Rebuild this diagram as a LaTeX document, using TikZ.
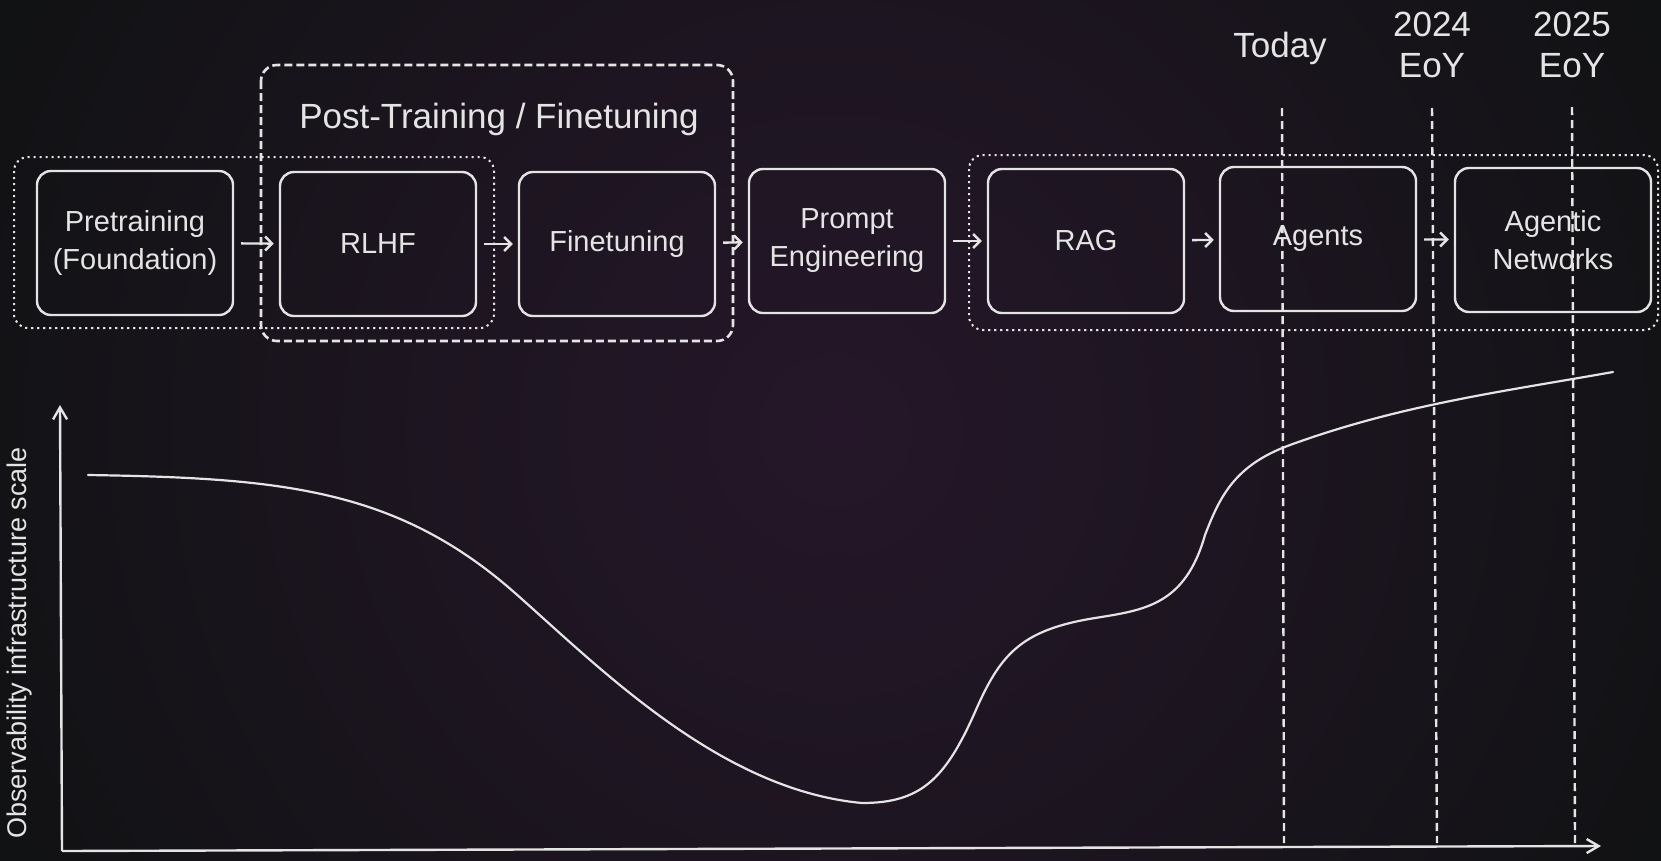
\documentclass[tikz,border=0pt]{standalone}
\usepackage{fontspec}
\setmainfont{Liberation Sans}
\usetikzlibrary{arrows.meta}
\definecolor{bg}{RGB}{17,18,20}
\definecolor{glow}{RGB}{37,23,41}
\definecolor{fg}{RGB}{228,228,228}
\pgfdeclareradialshading{glowshade}{\pgfpoint{0bp}{0bp}}{color(0bp)=(glow); color(12bp)=(glow!60!bg); color(27bp)=(bg); color(50bp)=(bg)}
\begin{document}
\begin{tikzpicture}[x=1pt,y=-1pt,
  stage/.style={draw=fg, line width=2.4pt, rounded corners=14pt, minimum width=196pt, minimum height=144pt, inner sep=0pt, text=fg, font=\fontsize{29}{38}\selectfont, align=center},
  flow/.style={draw=fg, line width=2.4pt, -{Straight Barb[length=7pt,width=14pt]}, shorten <=7pt, shorten >=5pt},
  dotbox/.style={draw=fg, line width=2pt, dash pattern=on 2.2pt off 3.8pt, rounded corners=14pt},
  dashbox/.style={draw=fg, line width=2.6pt, dash pattern=on 8pt off 4pt, rounded corners=16pt},
  vline/.style={draw=fg, line width=2.4pt, dash pattern=on 8pt off 5pt},
  axis/.style={draw=fg, line width=2.4pt, -{Straight Barb[length=12pt,width=14pt]}},
  curve/.style={draw=fg, line width=2.2pt, line cap=round},
  lbl/.style={text=fg, inner sep=0pt, font=\fontsize{35}{41}\selectfont, align=center}]
\useasboundingbox (0,0) rectangle (1661,860);
\fill[bg] (0,0) rectangle (1661,860);
\begin{scope}
\clip (0,0) rectangle (1661,860);
\shade[shading=glowshade] (-15,-420) rectangle (1685,1280);
\end{scope}

% group frames
\draw[dotbox] (14,157) rectangle (494,328);
\draw[dashbox] (261,65) rectangle (733,341);
\draw[dotbox] (969,155) rectangle (1658,330);
\node[lbl, anchor=base] (ptitle) at (499,128) {Post-Training / Finetuning};

% stages
\node[stage] (pre) at (135,243) {Pretraining\\(Foundation)};
\node[stage] (rlhf) at (378,244) {RLHF};
\node[stage] (fine) at (617,244) {Finetuning};
\node[stage] (prompt) at (847,241) {Prompt\\Engineering};
\node[stage] (rag) at (1086,241) {RAG};
\node[stage] (agents) at (1318,239) {Agents};
\node[stage] (agentic) at (1553,240) {Agentic\\Networks};

\draw[flow] (pre) -- (rlhf);
\draw[flow] (rlhf) -- (fine);
\draw[flow] (fine) -- (prompt);
\draw[flow] (prompt) -- (rag);
\draw[flow] (rag) -- (agents);
\draw[flow] (agents) -- (agentic);

% time markers
\node[lbl, anchor=base] (today) at (1280,57) {Today};
\node[lbl] (y2024) at (1432,45) {2024\\EoY};
\node[lbl] (y2025) at (1572,45) {2025\\EoY};
\coordinate (t1) at (1282,108); \coordinate (t2) at (1284,843);
\coordinate (a1) at (1432,108); \coordinate (a2) at (1437,843);
\coordinate (b1) at (1572,107); \coordinate (b2) at (1575,843);
\draw[vline] (t1) -- (t2);
\draw[vline] (a1) -- (a2);
\draw[vline] (b1) -- (b2);

% axes
\coordinate (origin) at (62,851);
\coordinate (ytop) at (60,405);
\coordinate (xend) at (1601,846);
\draw[axis] (origin) -- (ytop);
\draw[axis] (origin) -- (xend);
\node[text=fg, rotate=90, inner sep=0pt, font=\fontsize{27}{32}\selectfont] (ylab) at (20,643) {Observability infrastructure scale};

% curve
\draw[curve] (88,475) .. controls (280,478) and (396,488) .. (515,593)
  .. controls (600,668) and (720,790) .. (862,803)
  .. controls (920,803) and (945,780) .. (975,712)
  .. controls (1000,655) and (1020,630) .. (1095,618)
  .. controls (1145,610) and (1185,605) .. (1205,535)
  .. controls (1220,496) and (1235,465) .. (1290,445)
  .. controls (1400,405) and (1500,392) .. (1613,372);
\end{tikzpicture}
\end{document}
